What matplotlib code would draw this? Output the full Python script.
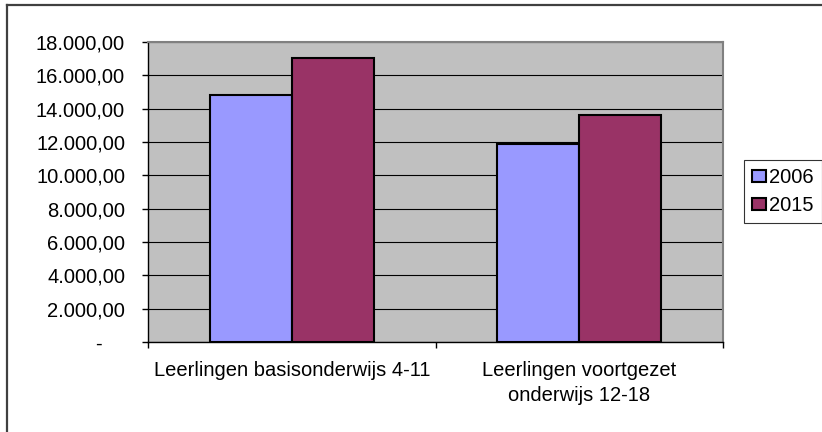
import matplotlib.pyplot as plt
import numpy as np
from matplotlib.ticker import FuncFormatter, FixedLocator
from matplotlib.lines import Line2D

plt.rcParams["font.family"] = ["Liberation Sans", "DejaVu Sans"]

categories = ["Leerlingen basisonderwijs 4-11", "Leerlingen voortgezet\nonderwijs 12-18"]
years = ["2006", "2015"]
values_2006 = [14820, 11880]
values_2015 = [17020, 13620]
colors = ["#9999FF", "#993366"]


def nl_fmt(v, pos):
    if v == 0:
        return "-    "
    s = f"{v:,.2f}"
    return s.replace(",", "X").replace(".", ",").replace("X", ".")


fig = plt.figure(figsize=(8.22, 4.32), dpi=100)
ax = fig.add_axes([148 / 822, 1 - 342 / 432, (723 - 148) / 822, (342 - 42) / 432])

x = np.arange(len(categories))
w = 0.285
ax.bar(x - w / 2, values_2006, w, color=colors[0], edgecolor="black", linewidth=1.5, label=years[0], zorder=3)
ax.bar(x + w / 2, values_2015, w, color=colors[1], edgecolor="black", linewidth=1.5, label=years[1], zorder=3)

ax.set_facecolor("#C0C0C0")
ax.set_xlim(-0.5, 1.5)
ax.set_ylim(0, 18000)
ax.set_yticks(np.arange(0, 18001, 2000))
ax.yaxis.set_major_formatter(FuncFormatter(nl_fmt))
ax.yaxis.grid(True, color="black", linewidth=0.8)
ax.set_axisbelow(True)

ax.set_xticks(x)
ax.set_xticklabels(categories, linespacing=1.35)
ax.xaxis.set_minor_locator(FixedLocator([-0.5, 0.5, 1.5]))
ax.tick_params(axis="x", which="major", length=0, pad=14, labelsize=14.5)
ax.tick_params(axis="x", which="minor", length=4.5, width=1, direction="out")
ax.tick_params(axis="y", length=4.5, width=1, pad=12, labelsize=14.5)

for side in ["top", "right"]:
    ax.spines[side].set_color("#808080")
    ax.spines[side].set_linewidth(1.5)
for side in ["left", "bottom"]:
    ax.spines[side].set_color("black")
    ax.spines[side].set_linewidth(1)

leg = fig.legend(loc="upper left", bbox_to_anchor=(744 / 822, 1 - 160 / 432),
                 fontsize=14.5, frameon=True, fancybox=False, edgecolor="black",
                 handlelength=0.7, handleheight=0.55, handletextpad=0.15,
                 borderpad=0.4, labelspacing=0.45, borderaxespad=0)
leg.get_frame().set_linewidth(0.8)
for h in leg.legend_handles:
    h.set_linewidth(1.5)

# outer chart frame (top and left edges visible)
fig.add_artist(Line2D([7 / 822, 1], [1 - 5 / 432, 1 - 5 / 432], color="#404040", linewidth=1.6))
fig.add_artist(Line2D([7 / 822, 7 / 822], [0, 1 - 5 / 432], color="#404040", linewidth=1.6))

fig.savefig("out.png", dpi=100)
